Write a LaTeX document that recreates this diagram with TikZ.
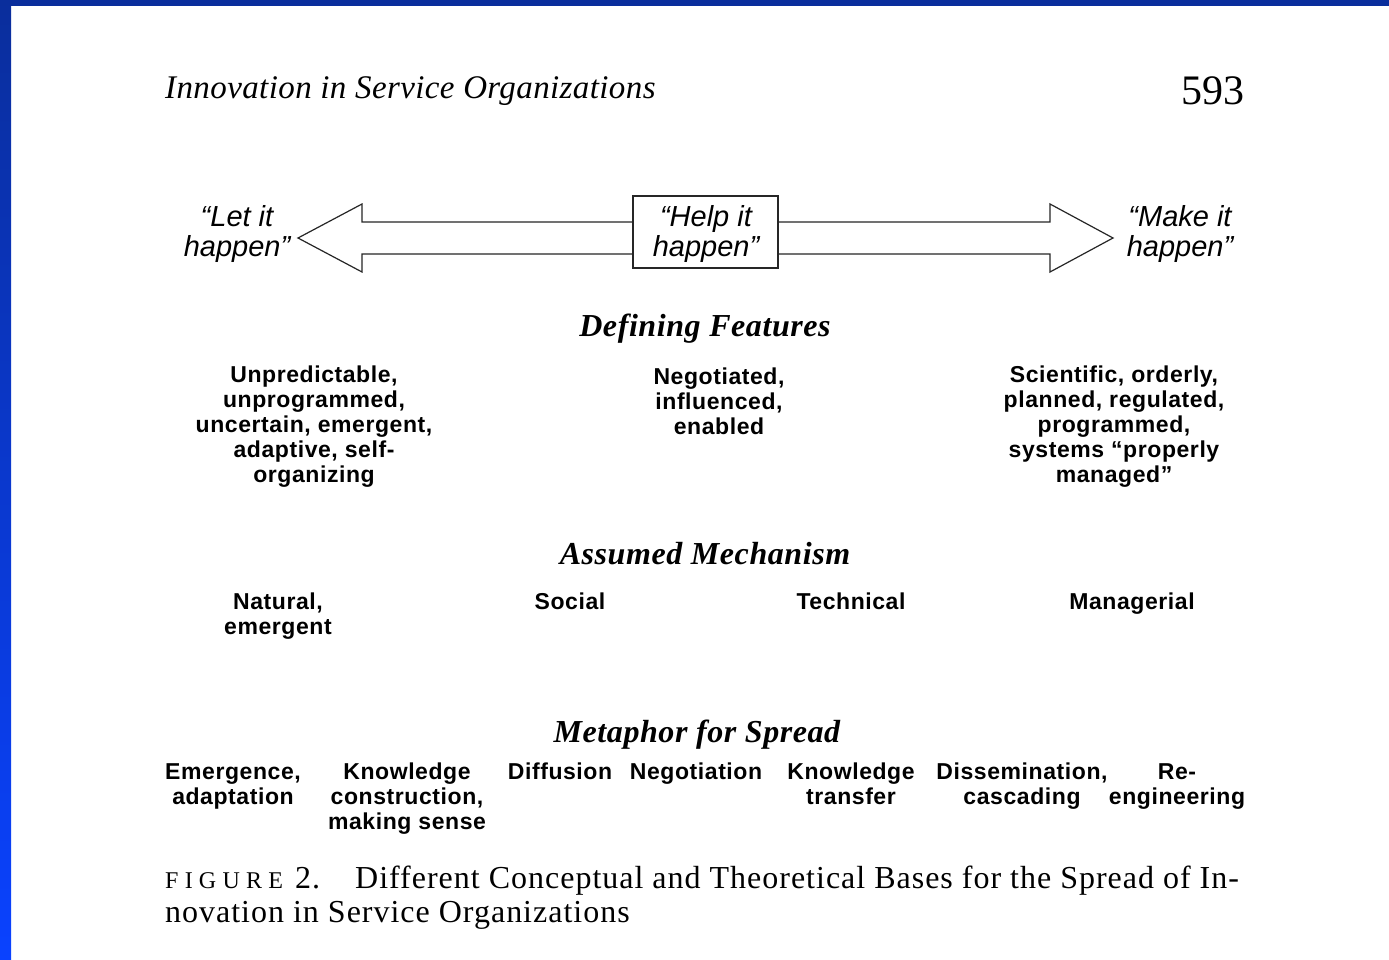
\documentclass[tikz,border=0pt]{standalone}
\usepackage{fontspec}
\setmainfont{Liberation Serif}
\newfontfamily\labelsans{Liberation Sans}
\usetikzlibrary{calc}

\definecolor{frameblue}{HTML}{0A2E9C}
\definecolor{framebright}{HTML}{0A42FF}

\begin{document}
\begin{tikzpicture}[x=1pt,y=-1pt,
  feature/.style={font=\labelsans\bfseries\fontsize{23}{25}\selectfont\addfontfeature{LetterSpace=2.5},
    align=center, inner sep=0pt, anchor=north},
  heading/.style={font=\bfseries\itshape\fontsize{32}{34}\selectfont\addfontfeature{LetterSpace=1.8},
    inner sep=0pt, anchor=base},
  quote/.style={font=\labelsans\itshape\fontsize{29}{30.5}\selectfont, align=center, inner sep=0pt, anchor=north},
  arrowline/.style={line width=1.2pt, draw=black!85, line join=miter},
]
\useasboundingbox (0,0) rectangle (1389,960);
\fill[white] (0,0) rectangle (1389,960);
% slide frame
\shade[top color=frameblue, bottom color=framebright] (0,0) rectangle (11,960);
\fill[frameblue] (0,0) rectangle (1389,6);

% running head
\node[anchor=base west, inner sep=0pt, font=\itshape\fontsize{33}{35}\selectfont\addfontfeature{LetterSpace=1.2}] (runhead) at (165,99) {Innovation in Service Organizations};
\node[anchor=base east, inner sep=0pt, font=\fontsize{42}{44}\selectfont] (pageno) at (1245,105) {593};

% continuum arrow
\coordinate (tipL) at (298,238);
\coordinate (tipR) at (1113,238);
\node[draw=black!85, line width=1.2pt, minimum width=145pt, minimum height=72pt, inner sep=0pt] (help) at (705.5,232) {};
\node[quote] (helptext) at (706,205) {“Help it\\happen”};
\draw[arrowline] ($(help.west|-tipL)+(0,-16)$) -- ($(tipL)+(64,-16)$) -- ($(tipL)+(64,-34)$) -- (tipL)
  -- ($(tipL)+(64,34)$) -- ($(tipL)+(64,16)$) -- ($(help.west|-tipL)+(0,16)$);
\draw[arrowline] ($(help.east|-tipR)+(0,-16)$) -- ($(tipR)+(-63,-16)$) -- ($(tipR)+(-63,-34)$) -- (tipR)
  -- ($(tipR)+(-63,34)$) -- ($(tipR)+(-63,16)$) -- ($(help.east|-tipR)+(0,16)$);
\node[quote] (let) at (237,205) {“Let it\\happen”};
\node[quote] (make) at (1180,205) {“Make it\\happen”};

% defining features
\node[heading] (hdfeat) at (705,336) {Defining Features};
\node[feature] (featL) at (314,366) {Unpredictable,\\unprogrammed,\\uncertain, emergent,\\adaptive, self-\\organizing};
\node[feature] (featM) at (719,368) {Negotiated,\\influenced,\\enabled};
\node[feature] (featR) at (1114,366) {Scientific, orderly,\\planned, regulated,\\programmed,\\systems “properly\\managed”};

% assumed mechanism
\node[heading] (hdmech) at (705,564) {Assumed Mechanism};
\node[feature] (mechA) at (278,593) {Natural,\\emergent};
\node[feature] (mechB) at (570,593) {Social};
\node[feature] (mechC) at (851,593) {Technical};
\node[feature] (mechD) at (1132,593) {Managerial};

% metaphor for spread
\node[heading] (hdspread) at (697,742) {Metaphor for Spread};
\node[feature] (spA) at (233,763) {Emergence,\\adaptation};
\node[feature] (spB) at (407,763) {Knowledge\\construction,\\making sense};
\node[feature] (spC) at (560,763) {Diffusion};
\node[feature] (spD) at (696,763) {Negotiation};
\node[feature] (spE) at (851,763) {Knowledge\\transfer};
\node[feature] (spF) at (1022,763) {Dissemination,\\cascading};
\node[feature] (spG) at (1177,763) {Re-\\engineering};

% figure caption
\node[anchor=north west, inner sep=0pt, align=left, font=\fontsize{32}{34}\selectfont\addfontfeature{LetterSpace=3.1}] (caption) at (165,866)
  {\makebox[190pt][l]{{\fontsize{24}{24}\selectfont\addfontfeature{LetterSpace=26}FIGURE}\hspace{12pt}2.}Different Conceptual and Theoretical Bases for the Spread of In-\\novation in Service Organizations};
\end{tikzpicture}
\end{document}
